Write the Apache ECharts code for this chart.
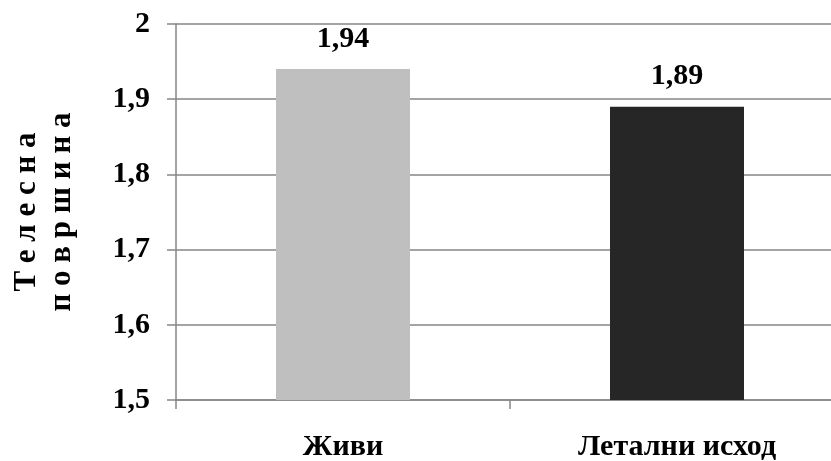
<!DOCTYPE html>
<html>
<head>
<meta charset="utf-8">
<script src="https://cdn.jsdelivr.net/npm/echarts@6/dist/echarts.min.js"></script>
<style>
  html, body { margin: 0; padding: 0; background: #ffffff; }
  #chart { width: 831px; height: 461px; }
</style>
</head>
<body>
<div id="chart"></div>
<script>
// Body surface area by outcome
const categories = ['Живи', 'Летални исход'];
const values = [1.94, 1.89];
const barColors = ['#bfbfbf', '#262626'];
const yTitle = 'Т е л е с н а\nп о в р ш и н а';

const serif = '"Liberation Serif", "Times New Roman", serif';
const gridColor = '#868686';
const lineW = 1.5;
const decimal = v => String(v).replace('.', ',');

const chart = echarts.init(document.getElementById('chart'));
chart.setOption({
  animation: false,
  backgroundColor: '#ffffff',
  // plot area runs past the right edge of the canvas
  grid: { left: 176, top: 24, width: 668, height: 376, outerBoundsMode: 'none', containLabel: false },
  xAxis: {
    type: 'category',
    data: categories,
    axisLine: { lineStyle: { color: gridColor, width: lineW } },
    axisTick: { show: true, length: 9, lineStyle: { color: gridColor, width: lineW } },
    axisLabel: {
      margin: 32,
      color: '#000',
      fontFamily: serif,
      fontWeight: 'bold',
      fontSize: 30
    }
  },
  yAxis: {
    type: 'value',
    min: 1.5,
    max: 2,
    interval: 0.1,
    name: yTitle,
    nameLocation: 'middle',
    nameRotate: 90,
    nameGap: 97,
    nameTextStyle: {
      color: '#000',
      fontFamily: serif,
      fontWeight: 'bold',
      fontSize: 31,
      lineHeight: 35,
      align: 'center'
    },
    axisLine: { show: true, lineStyle: { color: gridColor, width: lineW } },
    axisTick: { show: true, length: 9, lineStyle: { color: gridColor, width: lineW } },
    splitLine: { lineStyle: { color: gridColor, width: lineW } },
    axisLabel: {
      margin: 26,
      color: '#000',
      fontFamily: serif,
      fontWeight: 'bold',
      fontSize: 30,
      formatter: v => decimal(Math.round(v * 10) / 10)
    }
  },
  series: [{
    type: 'bar',
    barWidth: 134,
    data: values.map((v, i) => ({ value: v, itemStyle: { color: barColors[i] } })),
    label: {
      show: true,
      position: 'top',
      distance: 15,
      color: '#000',
      fontFamily: serif,
      fontWeight: 'bold',
      fontSize: 30,
      formatter: p => p.value.toFixed(2).replace('.', ',')
    }
  }]
});
</script>
</body>
</html>
